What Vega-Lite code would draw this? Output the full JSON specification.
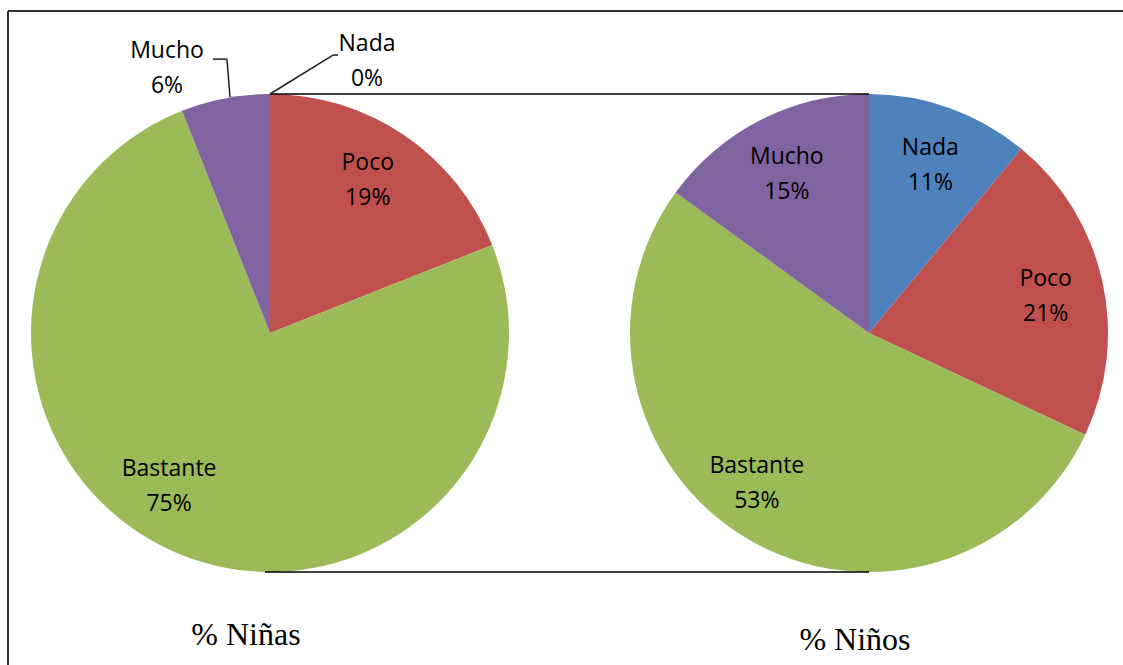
{
  "$schema": "https://vega.github.io/schema/vega-lite/v6.json",
  "width": 1123,
  "height": 665,
  "autosize": {"type": "fit", "contains": "padding"},
  "padding": 0,
  "background": "white",
  "config": {"view": {"stroke": null}},
  "data": {
    "values": [
      {"grupo": "Niñas", "categoria": "Nada", "valor": 0, "orden": 1, "etiqueta": "Nada\n0%"},
      {"grupo": "Niñas", "categoria": "Poco", "valor": 19, "orden": 2, "etiqueta": "Poco\n19%"},
      {"grupo": "Niñas", "categoria": "Bastante", "valor": 75, "orden": 3, "etiqueta": "Bastante\n75%"},
      {"grupo": "Niñas", "categoria": "Mucho", "valor": 6, "orden": 4, "etiqueta": "Mucho\n6%"},
      {"grupo": "Niños", "categoria": "Nada", "valor": 11, "orden": 1, "etiqueta": "Nada\n11%"},
      {"grupo": "Niños", "categoria": "Poco", "valor": 21, "orden": 2, "etiqueta": "Poco\n21%"},
      {"grupo": "Niños", "categoria": "Bastante", "valor": 53, "orden": 3, "etiqueta": "Bastante\n53%"},
      {"grupo": "Niños", "categoria": "Mucho", "valor": 15, "orden": 4, "etiqueta": "Mucho\n15%"}
    ]
  },
  "layer": [
    {
      "data": {"values": [{}]},
      "mark": {"type": "rule", "color": "#333333", "strokeWidth": 2, "xOffset": -262, "x2Offset": 260},
      "encoding": {
        "x": {"datum": "Niñas", "type": "nominal", "axis": null, "scale": {"type": "point", "domain": ["Niñas", "Niños"], "range": [270, 869], "padding": 0}},
        "x2": {"datum": "Niños"},
        "y": {"datum": 1.347, "type": "quantitative", "axis": null, "scale": {"domain": [-1, 1], "range": [572, 94]}}
      }
    },
    {
      "data": {"values": [{}]},
      "mark": {"type": "rule", "color": "#333333", "strokeWidth": 2, "xOffset": -262},
      "encoding": {
        "x": {"datum": "Niñas", "type": "nominal", "axis": null},
        "y": {"datum": 1.347, "type": "quantitative", "axis": null},
        "y2": {"datum": -1.6}
      }
    },
    {
      "transform": [{"filter": "datum.grupo == 'Niñas'"}],
      "mark": {"type": "arc", "radius": 239},
      "encoding": {
        "x": {"field": "grupo", "type": "nominal", "axis": null},
        "y": {"datum": 0, "type": "quantitative", "axis": null},
        "theta": {"field": "valor", "type": "quantitative", "stack": true},
        "color": {"field": "categoria", "type": "nominal", "legend": null, "scale": {"domain": ["Nada", "Poco", "Bastante", "Mucho"], "range": ["#4F81BD", "#C0504D", "#9BBB59", "#8064A2"]}},
        "order": {"field": "orden", "type": "quantitative", "sort": "ascending"}
      }
    },
    {
      "transform": [{"filter": "datum.grupo == 'Niños'"}],
      "mark": {"type": "arc", "radius": 239},
      "encoding": {
        "x": {"field": "grupo", "type": "nominal", "axis": null},
        "y": {"datum": 0, "type": "quantitative", "axis": null},
        "theta": {"field": "valor", "type": "quantitative", "stack": true},
        "color": {"field": "categoria", "type": "nominal", "legend": null},
        "order": {"field": "orden", "type": "quantitative", "sort": "ascending"}
      }
    },
    {
      "data": {"values": [{}]},
      "mark": {"type": "rule", "color": "#000000", "strokeWidth": 1.5},
      "encoding": {
        "x": {"datum": "Niñas", "type": "nominal", "axis": null},
        "x2": {"datum": "Niños"},
        "y": {"datum": 1, "type": "quantitative", "axis": null}
      }
    },
    {
      "data": {"values": [{}]},
      "mark": {"type": "rule", "color": "#000000", "strokeWidth": 1.5, "xOffset": -5},
      "encoding": {
        "x": {"datum": "Niñas", "type": "nominal", "axis": null},
        "x2": {"datum": "Niños"},
        "y": {"datum": -1, "type": "quantitative", "axis": null}
      }
    },
    {
      "transform": [{"filter": "datum.grupo == 'Niñas'"}],
      "mark": {"type": "text", "radius": 181, "font": "Open Sans", "fontSize": 23, "lineHeight": 35, "lineBreak": "\n", "color": "#000000", "baseline": "middle", "align": "center", "dx": -4, "dy": -20},
      "encoding": {
        "x": {"field": "grupo", "type": "nominal", "axis": null},
        "y": {"datum": 0, "type": "quantitative", "axis": null},
        "theta": {"field": "valor", "type": "quantitative", "stack": true},
        "detail": {"field": "categoria", "type": "nominal"},
        "order": {"field": "orden", "type": "quantitative", "sort": "ascending"},
        "text": {"field": "etiqueta", "type": "nominal"},
        "opacity": {"condition": {"test": "datum.categoria == 'Poco'", "value": 1}, "value": 0}
      }
    },
    {
      "transform": [{"filter": "datum.grupo == 'Niñas'"}],
      "mark": {"type": "text", "radius": 181, "font": "Open Sans", "fontSize": 23, "lineHeight": 35, "lineBreak": "\n", "color": "#000000", "baseline": "middle", "align": "center", "dx": -29, "dy": -30},
      "encoding": {
        "x": {"field": "grupo", "type": "nominal", "axis": null},
        "y": {"datum": 0, "type": "quantitative", "axis": null},
        "theta": {"field": "valor", "type": "quantitative", "stack": true},
        "detail": {"field": "categoria", "type": "nominal"},
        "order": {"field": "orden", "type": "quantitative", "sort": "ascending"},
        "text": {"field": "etiqueta", "type": "nominal"},
        "opacity": {"condition": {"test": "datum.categoria == 'Bastante'", "value": 1}, "value": 0}
      }
    },
    {
      "transform": [{"filter": "datum.grupo == 'Niños'"}],
      "mark": {"type": "text", "radius": 181, "font": "Open Sans", "fontSize": 23, "lineHeight": 35, "lineBreak": "\n", "color": "#000000", "baseline": "middle", "align": "center", "dy": -15},
      "encoding": {
        "x": {"field": "grupo", "type": "nominal", "axis": null},
        "y": {"datum": 0, "type": "quantitative", "axis": null},
        "theta": {"field": "valor", "type": "quantitative", "stack": true},
        "detail": {"field": "categoria", "type": "nominal"},
        "order": {"field": "orden", "type": "quantitative", "sort": "ascending"},
        "text": {"field": "etiqueta", "type": "nominal"},
        "opacity": {"condition": {"test": "datum.categoria != 'Bastante'", "value": 1}, "value": 0}
      }
    },
    {
      "transform": [{"filter": "datum.grupo == 'Niños'"}],
      "mark": {"type": "text", "radius": 181, "font": "Open Sans", "fontSize": 23, "lineHeight": 35, "lineBreak": "\n", "color": "#000000", "baseline": "middle", "align": "center", "dx": -20, "dy": -23},
      "encoding": {
        "x": {"field": "grupo", "type": "nominal", "axis": null},
        "y": {"datum": 0, "type": "quantitative", "axis": null},
        "theta": {"field": "valor", "type": "quantitative", "stack": true},
        "detail": {"field": "categoria", "type": "nominal"},
        "order": {"field": "orden", "type": "quantitative", "sort": "ascending"},
        "text": {"field": "etiqueta", "type": "nominal"},
        "opacity": {"condition": {"test": "datum.categoria == 'Bastante'", "value": 1}, "value": 0}
      }
    },
    {
      "transform": [{"filter": "datum.grupo == 'Niñas' && datum.categoria == 'Mucho'"}],
      "mark": {"type": "text", "font": "Open Sans", "fontSize": 23, "lineHeight": 35, "lineBreak": "\n", "color": "#000000", "baseline": "middle", "align": "center", "dx": -103, "dy": -18},
      "encoding": {
        "x": {"datum": "Niñas", "type": "nominal", "axis": null},
        "y": {"datum": 1.105, "type": "quantitative", "axis": null},
        "text": {"field": "etiqueta", "type": "nominal"}
      }
    },
    {
      "transform": [{"filter": "datum.grupo == 'Niñas' && datum.categoria == 'Nada'"}],
      "mark": {"type": "text", "font": "Open Sans", "fontSize": 23, "lineHeight": 35, "lineBreak": "\n", "color": "#000000", "baseline": "middle", "align": "center", "dx": 97, "dy": -17},
      "encoding": {
        "x": {"datum": "Niñas", "type": "nominal", "axis": null},
        "y": {"datum": 1.138, "type": "quantitative", "axis": null},
        "text": {"field": "etiqueta", "type": "nominal"}
      }
    },
    {
      "data": {"values": [{}]},
      "mark": {"type": "rule", "color": "#222222", "strokeWidth": 1.5, "xOffset": -57, "x2Offset": -43},
      "encoding": {
        "x": {"datum": "Niñas", "type": "nominal", "axis": null},
        "x2": {"datum": "Niñas"},
        "y": {"datum": 1.146, "type": "quantitative", "axis": null}
      }
    },
    {
      "data": {"values": [{}]},
      "mark": {"type": "rule", "color": "#222222", "strokeWidth": 1.5, "xOffset": -43, "x2Offset": -40},
      "encoding": {
        "x": {"datum": "Niñas", "type": "nominal", "axis": null},
        "x2": {"datum": "Niñas"},
        "y": {"datum": 1.146, "type": "quantitative", "axis": null},
        "y2": {"datum": 0.986}
      }
    },
    {
      "data": {"values": [{}]},
      "mark": {"type": "rule", "color": "#222222", "strokeWidth": 1.5, "xOffset": 0, "x2Offset": 63},
      "encoding": {
        "x": {"datum": "Niñas", "type": "nominal", "axis": null},
        "x2": {"datum": "Niñas"},
        "y": {"datum": 1.0, "type": "quantitative", "axis": null},
        "y2": {"datum": 1.163}
      }
    },
    {
      "data": {"values": [{}]},
      "mark": {"type": "rule", "color": "#222222", "strokeWidth": 1.5, "xOffset": 63, "x2Offset": 68},
      "encoding": {
        "x": {"datum": "Niñas", "type": "nominal", "axis": null},
        "x2": {"datum": "Niñas"},
        "y": {"datum": 1.163, "type": "quantitative", "axis": null}
      }
    },
    {
      "data": {"values": [{"titulo": "% Niñas"}]},
      "mark": {"type": "text", "font": "Liberation Serif", "fontSize": 32, "color": "#000000", "baseline": "alphabetic", "align": "center", "dx": -24},
      "encoding": {
        "x": {"datum": "Niñas", "type": "nominal", "axis": null},
        "y": {"datum": -1.305, "type": "quantitative", "axis": null},
        "text": {"field": "titulo", "type": "nominal"}
      }
    },
    {
      "data": {"values": [{"titulo": "% Niños"}]},
      "mark": {"type": "text", "font": "Liberation Serif", "fontSize": 32, "color": "#000000", "baseline": "alphabetic", "align": "center", "dx": -14},
      "encoding": {
        "x": {"datum": "Niños", "type": "nominal", "axis": null},
        "y": {"datum": -1.326, "type": "quantitative", "axis": null},
        "text": {"field": "titulo", "type": "nominal"}
      }
    }
  ]
}
